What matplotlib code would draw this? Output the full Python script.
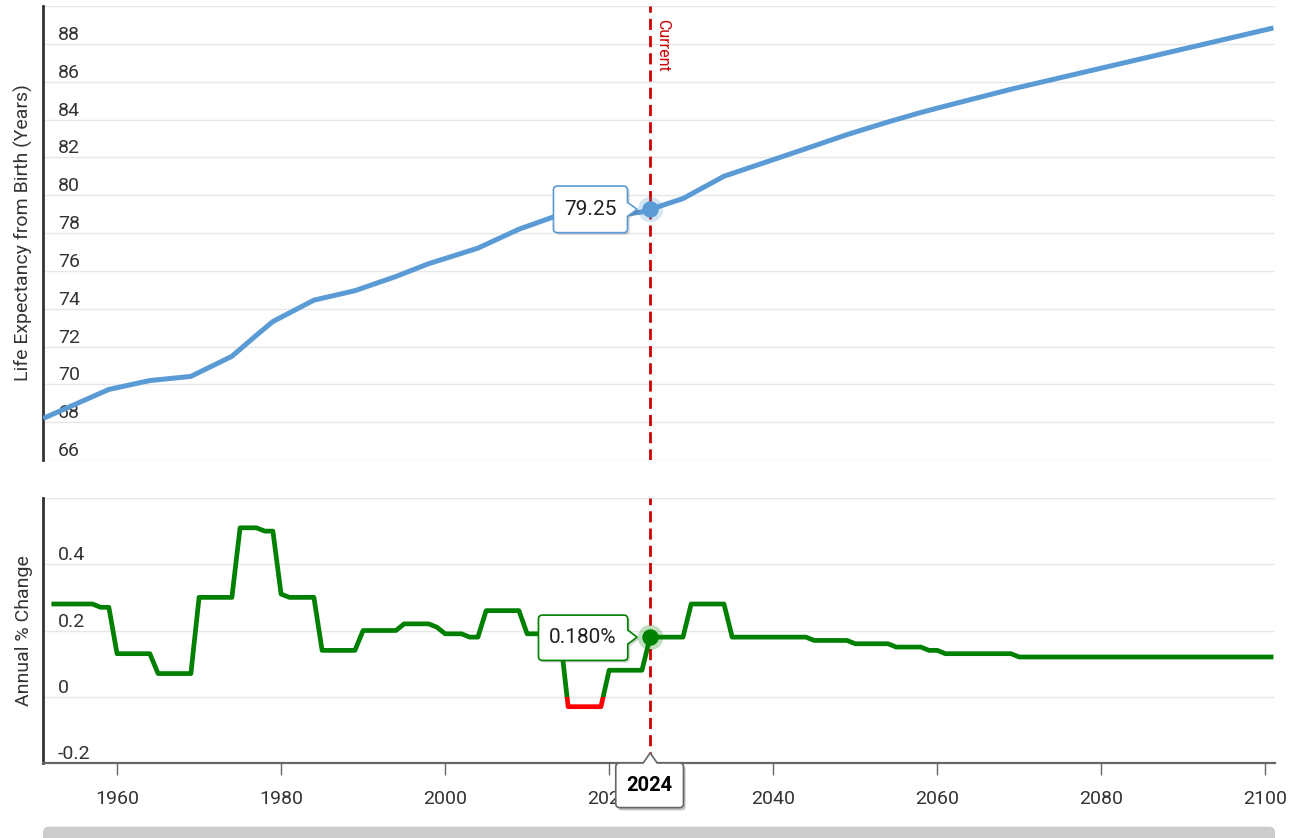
import datetime as dt
import matplotlib
matplotlib.use("Agg")
import matplotlib.pyplot as plt
import matplotlib.dates as mdates
import matplotlib.patheffects as pe
from matplotlib.patches import Rectangle, PathPatch, FancyBboxPatch
from matplotlib.path import Path
from matplotlib.transforms import Affine2D, ScaledTranslation, blended_transform_factory

plt.rcParams['font.family'] = ['Roboto', 'DejaVu Sans']

# ---------------- data ----------------
le_years = [1950, 1958, 1963, 1968, 1973, 1976, 1978, 1983, 1988, 1993, 1997, 1999,
            2003, 2008, 2013, 2018, 2023, 2024, 2028, 2033, 2043, 2048, 2053, 2057,
            2059, 2068, 2100]
le_values = [68.2, 69.73, 70.2, 70.42, 71.48, 72.6, 73.32, 74.45, 74.95, 75.7, 76.38, 76.65,
             77.2, 78.2, 78.97, 78.83, 79.11, 79.25, 79.82, 81.0, 82.46, 83.2, 83.87, 84.37,
             84.6, 85.6, 88.84]

pct_years = list(range(1951, 2101))
pct_values = [
    0.28, 0.28, 0.28, 0.28, 0.28, 0.28, 0.27, 0.27, 0.13,                 # 1951-1959
    0.13, 0.13, 0.13, 0.13, 0.07, 0.07, 0.07, 0.07, 0.07, 0.30,           # 1960-1969
    0.30, 0.30, 0.30, 0.30, 0.51, 0.51, 0.51, 0.50, 0.50, 0.31,           # 1970-1979
    0.30, 0.30, 0.30, 0.30, 0.14, 0.14, 0.14, 0.14, 0.14, 0.20,           # 1980-1989
    0.20, 0.20, 0.20, 0.20, 0.22, 0.22, 0.22, 0.22, 0.21, 0.19,           # 1990-1999
    0.19, 0.19, 0.18, 0.18, 0.26, 0.26, 0.26, 0.26, 0.26, 0.19,           # 2000-2009
    0.19, 0.19, 0.19, 0.19, -0.03, -0.03, -0.03, -0.03, -0.03, 0.08,      # 2010-2019
    0.08, 0.08, 0.08, 0.08, 0.18, 0.18, 0.18, 0.18, 0.18, 0.28,           # 2020-2029
    0.28, 0.28, 0.28, 0.28, 0.18, 0.18, 0.18, 0.18, 0.18, 0.18,           # 2030-2039
    0.18, 0.18, 0.18, 0.18, 0.17, 0.17, 0.17, 0.17, 0.17, 0.16,           # 2040-2049
    0.16, 0.16, 0.16, 0.16, 0.15, 0.15, 0.15, 0.15, 0.14, 0.14,           # 2050-2059
    0.13, 0.13, 0.13, 0.13, 0.13, 0.13, 0.13, 0.13, 0.13, 0.12,           # 2060-2069
    0.12, 0.12, 0.12, 0.12, 0.12, 0.12, 0.12, 0.12, 0.12, 0.12,           # 2070-2079
    0.12, 0.12, 0.12, 0.12, 0.12, 0.12, 0.12, 0.12, 0.12, 0.12,           # 2080-2089
    0.12, 0.12, 0.12, 0.12, 0.12, 0.12, 0.12, 0.12, 0.12, 0.12,           # 2090-2099
    0.12,                                                                 # 2100
]

current_year = 2024
current_le = 79.25
current_pct = 0.180

x_tick_years = [1960, 1980, 2000, 2020, 2040, 2060, 2080, 2100]
le_ticks = [66, 68, 70, 72, 74, 76, 78, 80, 82, 84, 86, 88, 90]
le_tick_labels = ['66', '68', '70', '72', '74', '76', '78', '80', '82', '84', '86', '88', '']
pct_ticks = [-0.2, 0, 0.2, 0.4, 0.6]
pct_tick_labels = ['-0.2', '0', '0.2', '0.4', '']

# ---------------- style ----------------
BLUE = '#5b9bd5'
GREEN = '#008000'
RED = '#ff0000'
CUR = '#cc0000'
TXT = '#333333'
GRID = '#e6e6e6'

W, H = 1293, 838
fig = plt.figure(figsize=(W / 100, H / 100), dpi=100)
fig.patch.set_facecolor('white')

ax1 = fig.add_axes([43 / W, 1 - 460 / H, 1232 / W, 454 / H])
ax2 = fig.add_axes([43 / W, 1 - 763 / H, 1232 / W, 265 / H])


def year_end(y):
    return dt.datetime(y, 12, 31)


le_x = [year_end(y) for y in le_years]
pct_x = [year_end(y) for y in pct_years]
cur_x = year_end(current_year)
cur_num = mdates.date2num(cur_x)

xlim = (dt.datetime(1950, 12, 20), dt.datetime(2101, 3, 10))

for ax in (ax1, ax2):
    ax.set_xlim(*xlim)
    ax.set_facecolor('white')
    for s in ('top', 'right', 'bottom'):
        ax.spines[s].set_visible(False)
    ax.spines['left'].set_color('#333333')
    ax.spines['left'].set_linewidth(2.0)
    ax.yaxis.grid(True, color=GRID, lw=1.0, zorder=0)
    ax.set_axisbelow(True)

# ---- top axes ----
ax1.set_ylim(66, 90)
ax1.set_yticks(le_ticks)
ax1.set_yticklabels(le_tick_labels)
ax1.plot(le_x, le_values, color=BLUE, lw=3.6, solid_joinstyle='round',
         solid_capstyle='butt', zorder=3)
ax1.tick_params(axis='x', length=0, labelbottom=False)
ax1.set_ylabel('Life Expectancy from Birth (Years)', fontsize=14, color=TXT)
ax1.yaxis.set_label_coords(-0.008, 0.5)

# ---- bottom axes ----
ax2.set_ylim(-0.2, 0.6)
ax2.set_yticks(pct_ticks)
ax2.set_yticklabels(pct_tick_labels)
ax2.spines['bottom'].set_visible(True)
ax2.spines['bottom'].set_color('#666666')
ax2.spines['bottom'].set_linewidth(1.6)
ax2.set_xticks([dt.datetime(y, 1, 1) for y in x_tick_years])
ax2.set_xticklabels([str(y) for y in x_tick_years])
ax2.tick_params(axis='x', length=8.6, width=1.0, color='#666666', pad=10.5,
                labelsize=14, labelcolor=TXT)
ax2.set_ylabel('Annual % Change', fontsize=14, color=TXT)
ax2.yaxis.set_label_coords(-0.008, 0.5)

g_line, = ax2.plot(pct_x, pct_values, color=GREEN, lw=3.4, solid_joinstyle='round',
                   solid_capstyle='butt', zorder=3)
r_line, = ax2.plot(pct_x, pct_values, color=RED, lw=3.4, solid_joinstyle='round',
                   solid_capstyle='butt', zorder=3)
bt = blended_transform_factory(ax2.transAxes, ax2.transData)
g_line.set_clip_path(Rectangle((0, 0), 1, 10, transform=bt))
r_line.set_clip_path(Rectangle((0, -10), 1, 10, transform=bt))

for ax in (ax1, ax2):
    ax.tick_params(axis='y', length=0, pad=-10.8, labelsize=14, labelcolor=TXT)
    for lab in ax.get_yticklabels():
        lab.set_horizontalalignment('left')
        lab.set_verticalalignment('bottom')

# ---- current line ----
for ax in (ax1, ax2):
    ax.axvline(cur_x, color=CUR, lw=2.0, linestyle=(0, (4.0, 2.2)), zorder=4)
ax1.annotate('Current', xy=(cur_num, 1), xycoords=('data', 'axes fraction'),
             xytext=(5, -13), textcoords='offset pixels', rotation=-90,
             ha='left', va='top', color=CUR, fontsize=11.5, zorder=5)


# ---- callouts ----
def callout_path(l, r, t, b, side, rad=4, tip=12, half=7):
    # coordinates in pixels, y pointing down, relative to anchor
    v, c = [], []
    M, L, C = Path.MOVETO, Path.LINETO, Path.CURVE3
    v += [(l + rad, t)]; c += [M]
    if side == 'top':
        v += [(-half, t), (0, t - tip), (half, t)]; c += [L, L, L]
    v += [(r - rad, t), (r, t), (r, t + rad)]; c += [L, C, C]
    if side == 'right':
        v += [(r, -half), (-tip, 0), (r, half)]; c += [L, L, L]
    v += [(r, b - rad), (r, b), (r - rad, b)]; c += [L, C, C]
    v += [(l + rad, b), (l, b), (l, b - rad)]; c += [L, C, C]
    v += [(l, t + rad), (l, t), (l + rad, t)]; c += [L, C, C]
    v += [(l + rad, t)]; c += [Path.CLOSEPOLY]
    return Path(v, c)


def add_callout(ax, xnum, y, box, side, text, ec, tip=13):
    l, r, t, b = box
    path = callout_path(l, r, t, b, side, tip=tip)
    tr = Affine2D().scale(1, -1) + ScaledTranslation(xnum, y, ax.transData)
    patch = PathPatch(path, transform=tr, facecolor='white', edgecolor=ec, lw=1.2,
                      zorder=8, clip_on=False)
    patch.set_path_effects([pe.SimplePatchShadow(offset=(1.5, -1.5), alpha=0.25),
                            pe.Normal()])
    ax.add_artist(patch)
    ax.annotate(text, xy=(xnum, y), xycoords='data',
                xytext=((l + r) / 2, -(t + b) / 2),
                textcoords='offset pixels', ha='center', va='center',
                fontsize=15, color='#222222', zorder=9, annotation_clip=False)


add_callout(ax1, cur_num, current_le, (-96.7, -22.7, -23.3, 23.3), 'right',
            f'{current_le:.2f}', BLUE)
add_callout(ax2, cur_num, current_pct, (-111.7, -22.4, -22.0, 23.3), 'right',
            f'{current_pct:.3f}%', GREEN)

# markers
ax1.scatter([cur_x], [current_le], s=330, color=BLUE, alpha=0.25, lw=0, zorder=6)
ax1.scatter([cur_x], [current_le], s=140, color=BLUE, lw=0, zorder=7)
ax2.scatter([cur_x], [current_pct], s=330, color=GREEN, alpha=0.25, lw=0, zorder=6)
ax2.scatter([cur_x], [current_pct], s=140, color=GREEN, lw=0, zorder=7)

# year label box at bottom
l, r, t, b = (-34.4, 33.3, 0.0, 44.6)
path = callout_path(l, r, t, b, 'top', tip=10)
tr = Affine2D().scale(1, -1) + ScaledTranslation(cur_num, -0.2, ax2.transData)
patch = PathPatch(path, transform=tr, facecolor='white', edgecolor='#666666', lw=1.2,
                  zorder=10, clip_on=False)
patch.set_path_effects([pe.SimplePatchShadow(offset=(1.5, -2), alpha=0.35), pe.Normal()])
ax2.add_artist(patch)
ax2.annotate(str(current_year), xy=(cur_num, -0.2), xycoords='data',
             xytext=((l + r) / 2, -(t + b) / 2), textcoords='offset pixels',
             ha='center', va='center', fontsize=14.5, fontweight='bold',
             color='#000000', zorder=11, annotation_clip=False)

# scrollbar
bar = FancyBboxPatch((0.43, -0.08), 12.32, 0.193,
                     boxstyle='round,pad=0,rounding_size=0.06',
                     transform=fig.dpi_scale_trans, facecolor='#cccccc',
                     edgecolor='none')
fig.patches.append(bar)

fig.savefig('out.png', dpi=100, facecolor='white')
